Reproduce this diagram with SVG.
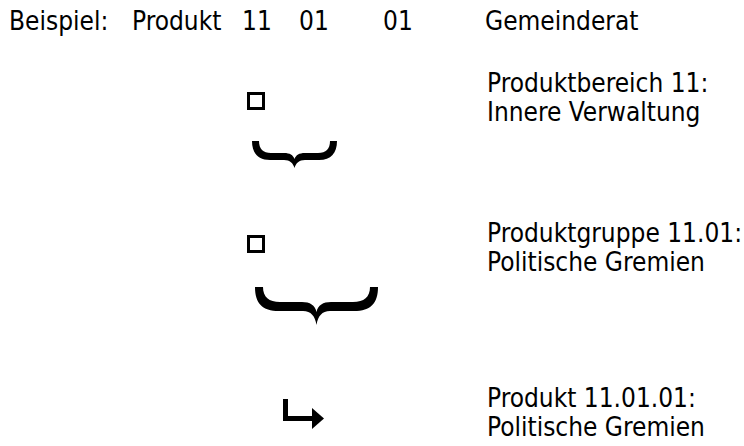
<svg xmlns="http://www.w3.org/2000/svg" width="744" height="446" viewBox="0 0 744 446">
<style>
text{font-family:"DejaVu Sans Condensed","DejaVu Sans",sans-serif;font-stretch:condensed;font-size:26px;fill:#000}
.sq{fill:none;stroke:#000;stroke-width:3}
.br{fill:#000}
</style>
<rect width="744" height="446" fill="#fff"/>
<g id="header">
<text x="9" y="30">Beispiel:</text>
<text x="132" y="30">Produkt</text>
<text x="242" y="30">11</text>
<text x="299" y="30">01</text>
<text x="383" y="30">01</text>
<text x="485" y="30">Gemeinderat</text>
</g>
<g id="node-bereich">
<rect class="sq" x="248.5" y="93.5" width="15" height="15"/>
<text x="487" y="92">Produktbereich 11:</text>
<text x="487" y="121">Innere Verwaltung</text>
</g>
<g id="node-gruppe">
<rect class="sq" x="248.5" y="236.5" width="15" height="15"/>
<text x="487" y="242">Produktgruppe 11.01:</text>
<text x="487" y="271">Politische Gremien</text>
</g>
<g id="node-produkt">
<text x="487" y="407">Produkt 11.01.01:</text>
<text x="487" y="436">Politische Gremien</text>
</g>
<g id="connectors">
<path class="br" d="M252,141 C252,153 258,160 270,160 L284,160 C290,160 293,163 294.5,168 C296,163 299,160 305,160 L319,160 C331,160 337,153 337,141 L330,141 C330,149 326,153 318,153 L305,153 C299,153 296,155 294.5,159 C293,155 290,153 284,153 L271,153 C263,153 259,149 259,141 Z"/>
<path class="br" d="M255,287 C255,303 262,311 279,311 L303,311 C311,311 315,316 316.5,325 C318,316 322,311 330,311 L354,311 C371,311 378,303 378,287 L370,287 C370,297 364,302 353,302 L331,302 C323,302 318,305 316.5,312 C315,305 310,302 302,302 L280,302 C269,302 263,297 263,287 Z"/>
<path d="M285.5,399 V418.5 H314" fill="none" stroke="#000" stroke-width="5"/>
<path class="br" d="M312,408 L324,418.5 L312,429 Z"/>
</g>
</svg>
